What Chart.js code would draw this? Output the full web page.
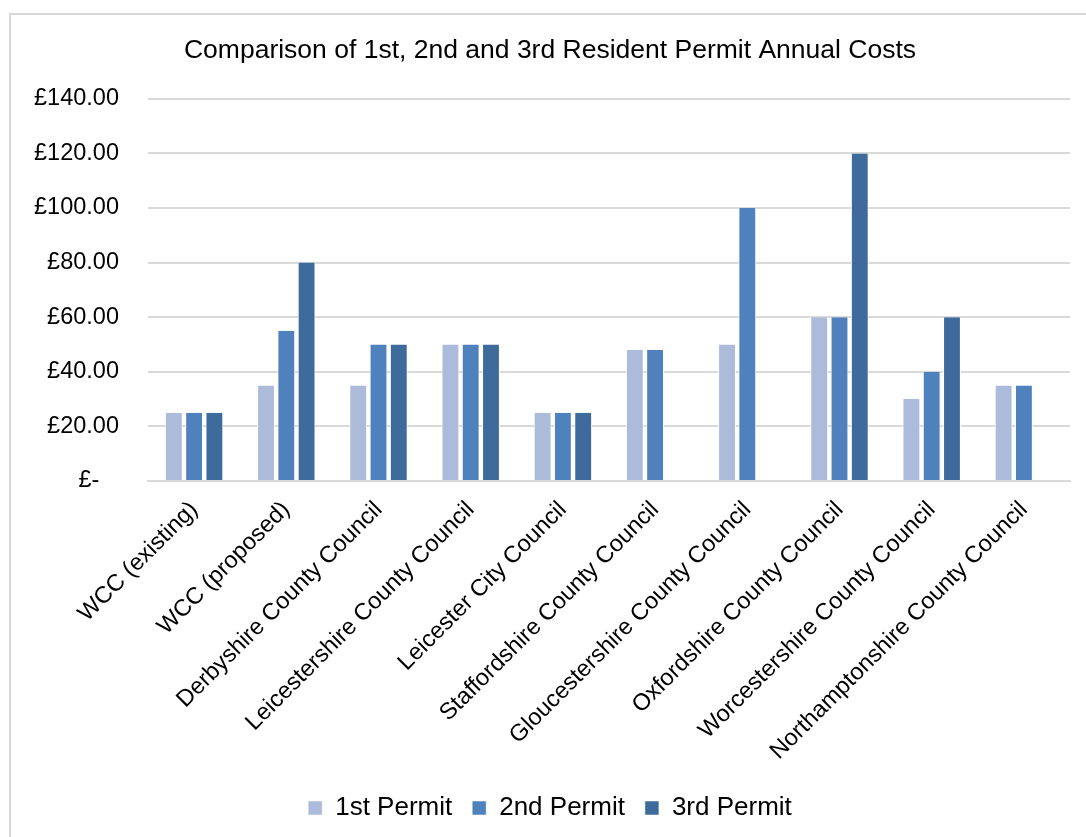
<!DOCTYPE html>
<html><head><meta charset="utf-8">
<script src="https://cdn.jsdelivr.net/npm/chart.js@4"></script>
<style>
html,body{margin:0;padding:0;background:#fff;overflow:hidden}
#frame{position:absolute;left:9px;top:13px;width:1200px;height:900px;border:2px solid #d9d9d9;box-sizing:border-box}
#wrap{position:absolute;left:0;top:0;width:1086px;height:837px}
</style></head>
<body><div id="frame"></div><div id="wrap"><canvas id="c" width="1086" height="837"></canvas></div>
<script>
const categories = ["WCC (existing)","WCC (proposed)","Derbyshire County Council","Leicestershire County Council","Leicester City Council","Staffordshire County Council","Gloucestershire County Council","Oxfordshire County Council","Worcestershire County Council","Northamptonshire County Council"];
const permit1 = [25,35,35,50,25,48,50,60,30,35];
const permit2 = [25,55,50,50,25,48,100,60,40,35];
const permit3 = [25,80,50,50,25,null,null,120,60,null];
const seriesNames = ["1st Permit","2nd Permit","3rd Permit"];
const seriesColors = ["#abbbd9","#4f81bd","#3f6a9c"];
const yTicks = [0,20,40,60,80,100,120,140];

const FONT = "'Liberation Sans', Arial, sans-serif";
const mk = (i, data) => ({label: seriesNames[i], data, backgroundColor: seriesColors[i], borderColor: '#ffffff', borderWidth: {left: 1, right: 1, top: 0, bottom: 0}, barPercentage: 0.88, categoryPercentage: 0.66});

new Chart(document.getElementById('c'), {
  type: 'bar',
  data: { labels: categories, datasets: [mk(0, permit1), mk(1, permit2), mk(2, permit3)] },
  options: {
    responsive: false, animation: false,
    layout: { padding: { left: 30, right: 16, top: 0, bottom: 6 } },
    plugins: {
      title: { display: true, text: 'Comparison of 1st, 2nd and 3rd Resident Permit Annual Costs', color: '#000', font: { family: FONT, size: 26.5, weight: 'normal' }, padding: { top: 35, bottom: 32 } },
      legend: { position: 'bottom', labels: { color: '#000', font: { family: FONT, size: 26 }, boxWidth: 14, boxHeight: 14, padding: 20 } },
      tooltip: { enabled: false }
    },
    scales: {
      x: {
        grid: { display: false },
        border: { display: true, color: '#d9d9d9', width: 2 },
        ticks: { color: '#000', font: { family: FONT, size: 23.5 }, minRotation: 45, maxRotation: 45, padding: 7, autoSkip: false },
        afterFit: s => { s.height = 294; }
      },
      y: {
        min: 0, max: 140,
        afterBuildTicks: s => { s.ticks = yTicks.map(v => ({ value: v })); },
        grid: { color: '#d9d9d9', lineWidth: 2, drawTicks: false },
        border: { display: false },
        ticks: { color: '#000', font: { family: FONT, size: 23.5 }, padding: 29, callback: v => v === 0 ? '£-   ' : '£' + Number(v).toFixed(2) },
        afterFit: s => { s.width = 118; }
      }
    }
  }
});
</script></body></html>
